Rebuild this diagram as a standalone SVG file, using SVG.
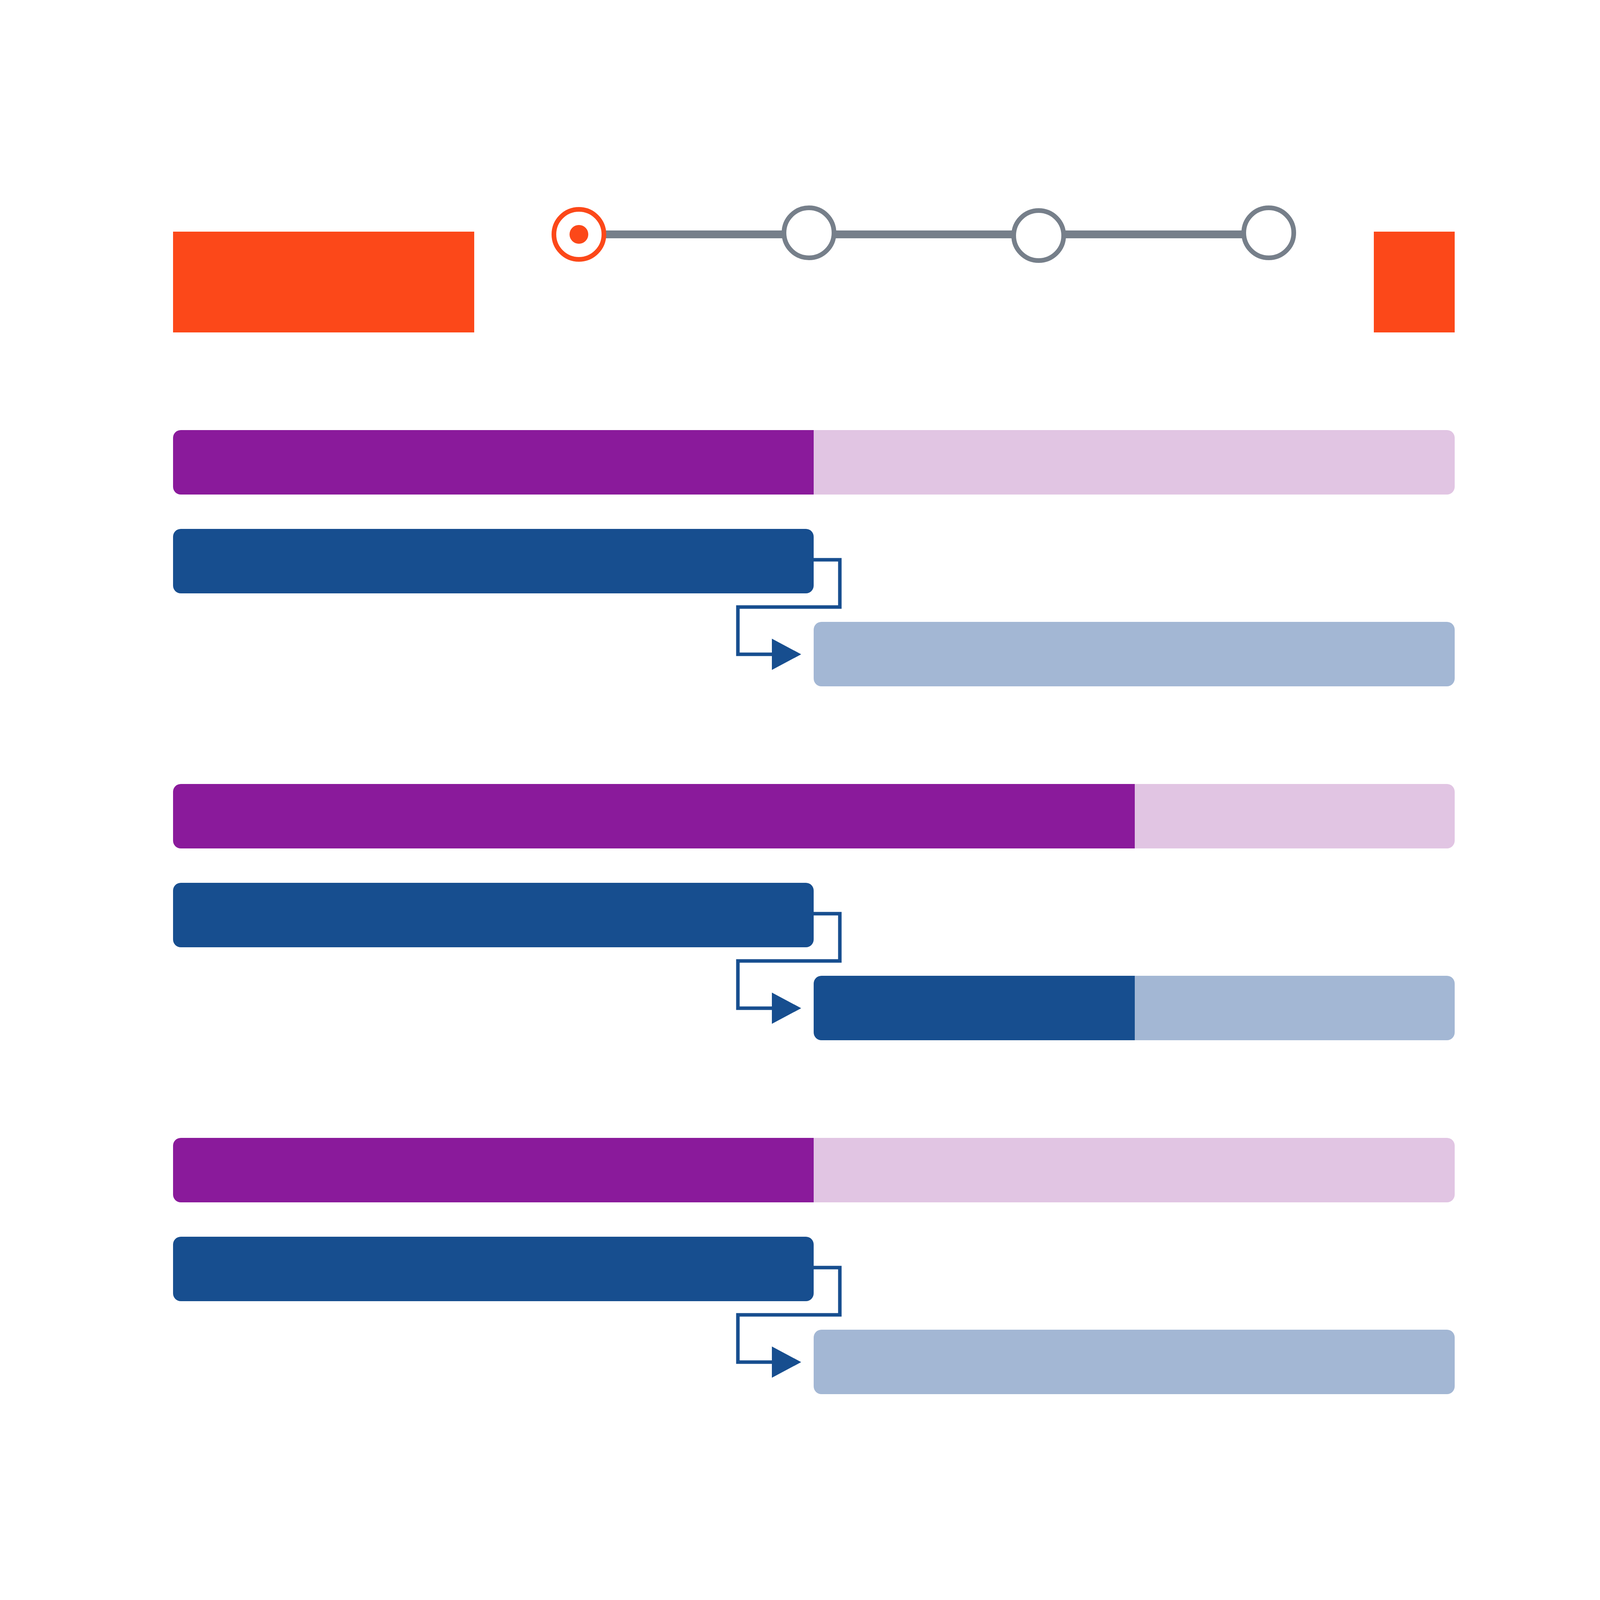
<svg xmlns="http://www.w3.org/2000/svg" width="4167" height="4167" viewBox="0 0 4167 4167">
  <style>
    .orange { fill: #FC4819; }
    .purple { fill: #8A1A9B; }
    .pink { fill: #E1C5E3; }
    .blue { fill: #174E8F; }
    .lightblue { fill: #A3B7D4; }
    .track { stroke: #767F8A; stroke-width: 20; fill: none; }
    .step { fill: #FFFFFF; stroke: #767F8A; stroke-width: 12; }
    .step-active { fill: #FFFFFF; stroke: #FC4819; stroke-width: 12; }
    .link { fill: none; stroke: #174E8F; stroke-width: 9; stroke-linejoin: miter; stroke-linecap: square; }
    .head { fill: #174E8F; }
  </style>
  <rect width="4167" height="4167" fill="#FFFFFF"/>

  <g id="header-left"><rect class="orange" x="443" y="593" width="771" height="258"/></g>
  <g id="header-right"><rect class="orange" x="3517" y="593" width="207" height="258"/></g>

  <g id="stepper">
    <line class="track" x1="1482" y1="600" x2="3248" y2="600"/>
    <g id="step-1"><circle class="step-active" cx="1482" cy="600" r="64"/><circle class="orange" cx="1482" cy="600" r="24"/></g>
    <g id="step-2"><circle class="step" cx="2071" cy="596" r="64"/></g>
    <g id="step-3"><circle class="step" cx="2659" cy="603" r="64"/></g>
    <g id="step-4"><circle class="step" cx="3248" cy="596" r="64"/></g>
  </g>

  <!-- Group 1 -->
  <g id="g1-summary">
    <path class="purple" d="M463 1101 H2083 V1266 H463 A20 20 0 0 1 443 1246 V1121 A20 20 0 0 1 463 1101 Z"/>
    <path class="pink" d="M2083 1101 H3704 A20 20 0 0 1 3724 1121 V1246 A20 20 0 0 1 3704 1266 H2083 Z"/>
  </g>
  <g id="g1-task-a"><rect class="blue" x="443" y="1354" width="1640" height="165" rx="20"/></g>
  <g id="g1-task-b"><rect class="lightblue" x="2083" y="1592" width="1641" height="165" rx="20"/></g>

  <!-- Group 2 -->
  <g id="g2-summary">
    <path class="purple" d="M463 2007 H2905 V2172 H463 A20 20 0 0 1 443 2152 V2027 A20 20 0 0 1 463 2007 Z"/>
    <path class="pink" d="M2905 2007 H3704 A20 20 0 0 1 3724 2027 V2152 A20 20 0 0 1 3704 2172 H2905 Z"/>
  </g>
  <g id="g2-task-a"><rect class="blue" x="443" y="2260" width="1640" height="165" rx="20"/></g>
  <g id="g2-task-b">
    <path class="blue" d="M2103 2498 H2905 V2663 H2103 A20 20 0 0 1 2083 2643 V2518 A20 20 0 0 1 2103 2498 Z"/>
    <path class="lightblue" d="M2905 2498 H3704 A20 20 0 0 1 3724 2518 V2643 A20 20 0 0 1 3704 2663 H2905 Z"/>
  </g>

  <!-- Group 3 -->
  <g id="g3-summary">
    <path class="purple" d="M463 2913 H2083 V3078 H463 A20 20 0 0 1 443 3058 V2933 A20 20 0 0 1 463 2913 Z"/>
    <path class="pink" d="M2083 2913 H3704 A20 20 0 0 1 3724 2933 V3058 A20 20 0 0 1 3704 3078 H2083 Z"/>
  </g>
  <g id="g3-task-a"><rect class="blue" x="443" y="3166" width="1640" height="165" rx="20"/></g>
  <g id="g3-task-b"><rect class="lightblue" x="2083" y="3404" width="1641" height="165" rx="20"/></g>

  <g id="connectors">
    <g id="c1">
      <polyline class="link" points="2083,1433 2150,1433 2150,1554 1889,1554 1889,1675 1980,1675"/>
      <polygon class="head" points="1976,1635 2051,1675 1976,1715"/>
    </g>
    <g id="c2">
      <polyline class="link" points="2083,2339 2150,2339 2150,2460 1889,2460 1889,2581 1980,2581"/>
      <polygon class="head" points="1976,2541 2051,2581 1976,2621"/>
    </g>
    <g id="c3">
      <polyline class="link" points="2083,3245 2150,3245 2150,3366 1889,3366 1889,3487 1980,3487"/>
      <polygon class="head" points="1976,3447 2051,3487 1976,3527"/>
    </g>
  </g>
</svg>
